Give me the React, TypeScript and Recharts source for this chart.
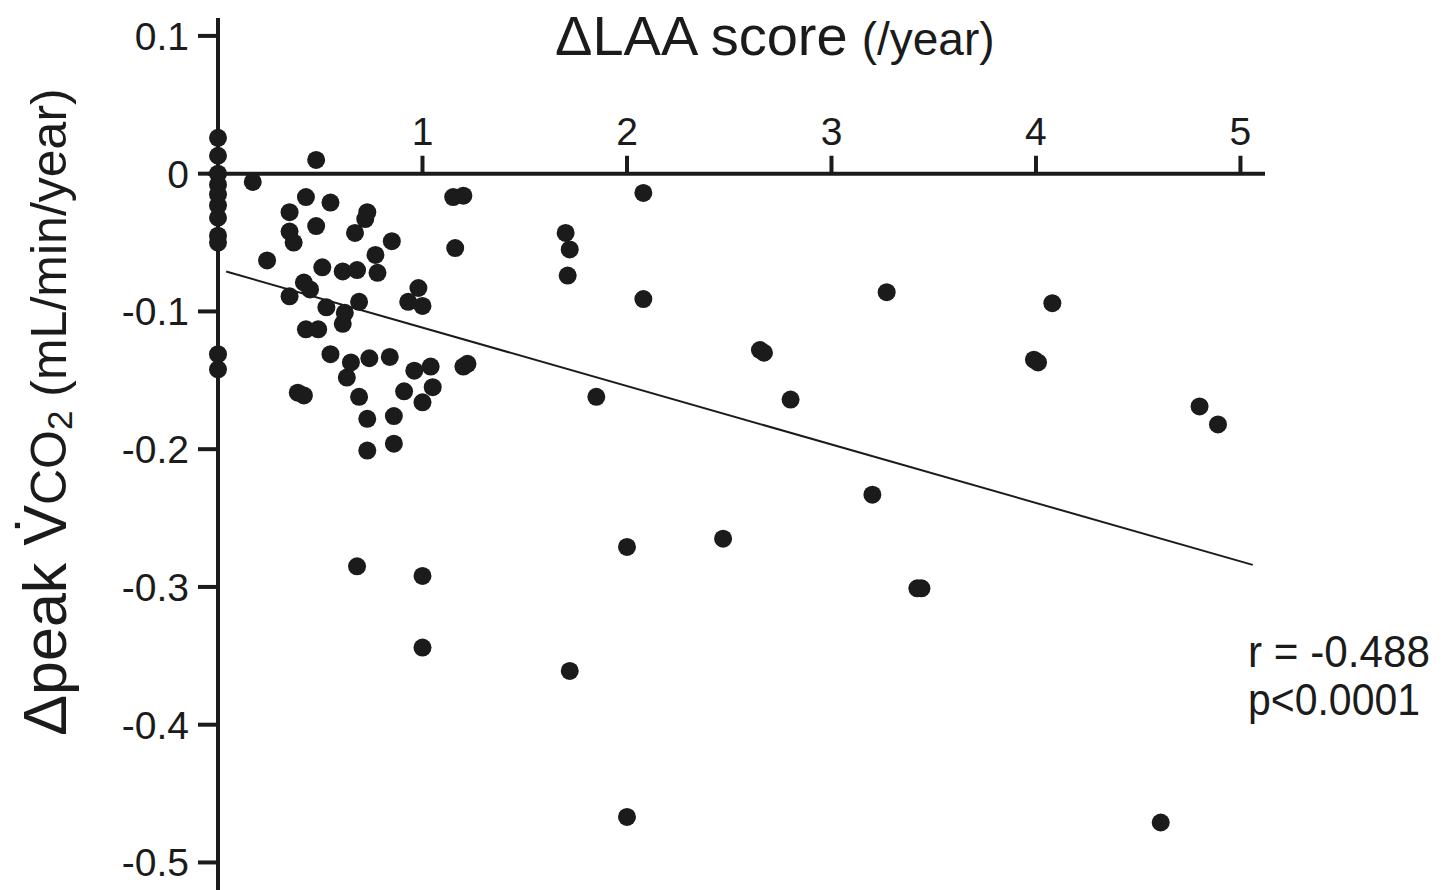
import React from 'react';
import { ScatterChart, Scatter, XAxis, YAxis, ReferenceLine, Customized } from 'recharts';

// values
const deltaLAA = [
  0, 0, 0, 0, 0, 0, 0, 0, 0, 0, 0,
  0.17, 0.24, 0.35, 0.35, 0.37, 0.35, 0.42, 0.45, 0.43, 0.48,
  0.48, 0.55, 0.51, 0.53, 0.43, 0.49, 0.39, 0.42, 0.55, 0.61,
  0.61, 0.62, 0.63, 0.65, 0.67, 0.68, 0.69, 0.69, 0.72, 0.73,
  0.74, 0.73, 0.73, 0.77, 0.78, 0.84, 0.85, 0.86, 0.86, 0.91,
  0.93, 0.96, 0.98, 1.0, 1.0, 1.04, 1.05, 1.15, 1.2, 1.16,
  1.2, 1.22, 0.68, 1.0, 1.0, 1.7, 1.72, 1.71, 1.72, 1.85,
  2.0, 2.0, 2.08, 2.08, 2.47, 2.65, 2.67, 2.8, 3.2, 3.27,
  3.42, 3.44, 3.99, 4.01, 4.08, 4.61, 4.8, 4.89,
];
const deltaVCO2 = [
  0.026, 0.013, 0.0, -0.008, -0.015, -0.023, -0.032, -0.045, -0.05, -0.131, -0.142,
  -0.006, -0.063, -0.028, -0.042, -0.05, -0.089, -0.079, -0.084, -0.017, 0.01,
  -0.038, -0.021, -0.068, -0.097, -0.113, -0.113, -0.159, -0.161, -0.131, -0.071,
  -0.109, -0.101, -0.148, -0.137, -0.043, -0.07, -0.093, -0.162, -0.033, -0.028,
  -0.134, -0.178, -0.201, -0.059, -0.072, -0.133, -0.049, -0.176, -0.196, -0.158,
  -0.093, -0.143, -0.083, -0.096, -0.166, -0.14, -0.155, -0.017, -0.016, -0.054,
  -0.14, -0.138, -0.285, -0.292, -0.344, -0.043, -0.055, -0.074, -0.361, -0.162,
  -0.271, -0.467, -0.014, -0.091, -0.265, -0.128, -0.13, -0.164, -0.233, -0.086,
  -0.301, -0.301, -0.135, -0.137, -0.094, -0.471, -0.169, -0.182,
];
const trendX = [0.04, 5.06];
const trendY = [-0.071, -0.284];
const yTicks = [0.1, 0, -0.1, -0.2, -0.3, -0.4, -0.5];
const xTicks = [1, 2, 3, 4, 5];

const points = deltaLAA.map((x, i) => ({ x, y: deltaVCO2[i] }));

const ink = '#1b1b1b';
const font = '"Liberation Sans", Arial, sans-serif';

const Dot = (p: any) => <circle cx={p.cx} cy={p.cy} r={9} fill={ink} />;

const Texts = () => (
  <g fontFamily={font} fill={ink}>
    <text x={555} y={55}>
      <tspan fontSize={56}>ΔLAA score</tspan>
      <tspan fontSize={46} dx={14}>(/year)</tspan>
    </text>
    <text transform="rotate(-90 66 412)" x={66} y={412} textAnchor="middle">
      <tspan fontSize={61}>Δpeak V̇</tspan>
      <tspan fontSize={50}>CO</tspan>
      <tspan fontSize={35} dy={6}>2</tspan>
      <tspan fontSize={50} dy={-6}> (mL/min/year)</tspan>
    </text>
    <text x={1248} y={667} fontSize={44} textLength={182} lengthAdjust="spacingAndGlyphs">r = -0.488</text>
    <text x={1248} y={715} fontSize={44} textLength={172} lengthAdjust="spacingAndGlyphs">p&lt;0.0001</text>
  </g>
);

export default function App() {
  return (
    <div style={{ width: 1447, height: 890, background: '#fff' }}>
      <style>{'body{margin:0}'}</style>
      <ScatterChart width={1447} height={890} margin={{ top: 18, right: 182, bottom: 0, left: 0 }}>
        <XAxis type="number" dataKey="x" domain={[0, 5.12]} hide />
        <YAxis
          type="number"
          dataKey="y"
          domain={[-0.52, 0.113]}
          ticks={yTicks}
          width={218}
          tickSize={20}
          tickMargin={9}
          tickFormatter={(v) => String(v)}
          axisLine={{ stroke: ink, strokeWidth: 4 }}
          tickLine={{ stroke: ink, strokeWidth: 4 }}
          tick={{ fill: ink, fontSize: 39, fontFamily: font }}
          interval={0}
        />
        <ReferenceLine
          segment={[{ x: -0.05, y: 0 }, { x: 5.12, y: 0 }]}
          stroke={ink}
          strokeWidth={4}
          ifOverflow="visible"
        />
        {xTicks.map((t) => (
          <ReferenceLine
            key={t}
            segment={[{ x: t, y: 0 }, { x: t, y: 0.013 }]}
            stroke={ink}
            strokeWidth={4}
            ifOverflow="visible"
            label={{ value: String(t), position: 'top', offset: 11, fontSize: 39, fill: ink, fontFamily: font }}
          />
        ))}
        <ReferenceLine
          segment={[{ x: trendX[0], y: trendY[0] }, { x: trendX[1], y: trendY[1] }]}
          stroke={ink}
          strokeWidth={2}
          ifOverflow="visible"
        />
        <Scatter data={points} shape={Dot} isAnimationActive={false} />
        <Customized component={Texts} />
      </ScatterChart>
    </div>
  );
}
